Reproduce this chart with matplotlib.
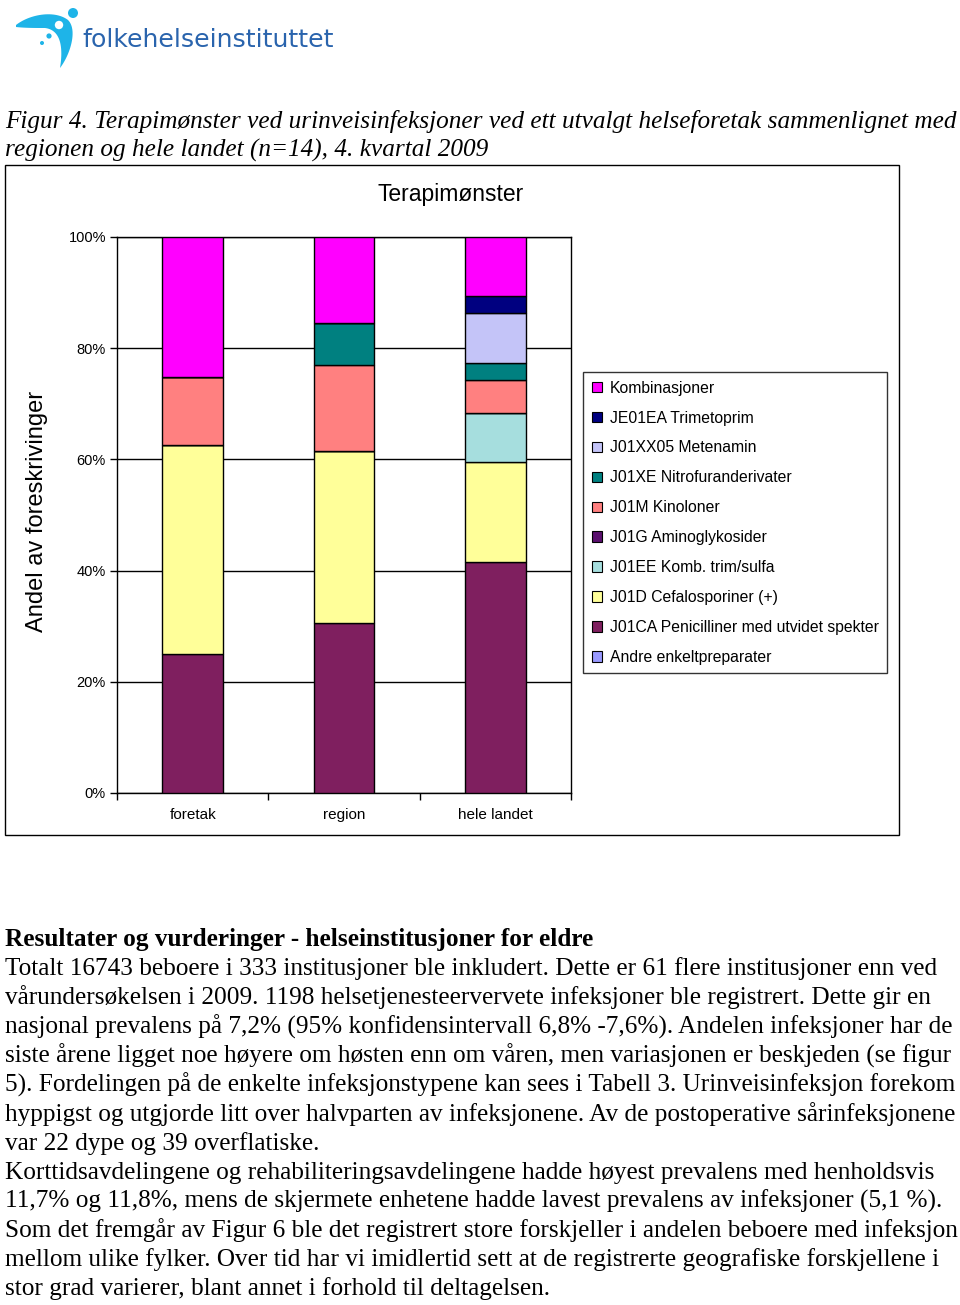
import matplotlib.pyplot as plt
from matplotlib.patches import Rectangle, Circle, Polygon
import numpy as np

# kategorier og andeler (%) per legemiddelgruppe, lest av figuren
categories = ['foretak', 'region', 'hele landet']

andre = [0, 0, 0]
j01ca = [25.0, 30.6, 41.6]
j01d = [37.6, 30.9, 18.0]
j01ee = [0, 0, 8.8]
j01g = [0, 0, 0]
j01m = [12.3, 15.4, 5.9]
j01xe = [0, 7.7, 3.1]
j01xx05 = [0, 0, 9.0]
je01ea = [0, 0, 3.0]
komb = [25.1, 15.4, 10.6]

series_names = ['Andre enkeltpreparater', 'J01CA Penicilliner med utvidet spekter',
                'J01D Cefalosporiner (+)', 'J01EE Komb. trim/sulfa', 'J01G Aminoglykosider',
                'J01M Kinoloner', 'J01XE Nitrofuranderivater', 'J01XX05 Metenamin',
                'JE01EA Trimetoprim', 'Kombinasjoner']
series_values = [andre, j01ca, j01d, j01ee, j01g, j01m, j01xe, j01xx05, je01ea, komb]
series_colors = ['#9999ff', '#7f1f5f', '#ffff99', '#a6dede', '#5a0f6e',
                 '#ff8080', '#008080', '#c4c4f8', '#000080', '#ff00ff']

yticks = [0, 20, 40, 60, 80, 100]
ytick_labels = ['0%', '20%', '40%', '60%', '80%', '100%']

W, H = 960, 1305
fig = plt.figure(figsize=(W / 100, H / 100), dpi=100)

# bakgrunn i pikselkoordinater (logo, ramme, tekst)
bg = fig.add_axes([0, 0, 1, 1])
bg.set_xlim(0, W)
bg.set_ylim(H, 0)
bg.axis('off')


def bezier(p, n=30):
    p = np.array(p, dtype=float)
    t = np.linspace(0, 1, n)[:, None]
    return ((1 - t) ** 3 * p[0] + 3 * (1 - t) ** 2 * t * p[1]
            + 3 * (1 - t) * t ** 2 * p[2] + t ** 3 * p[3])


# logo
cyan = '#1eb4e8'
swoosh = np.vstack([
    bezier([(16, 25), (30, 14), (55, 10), (68, 20)]),
    bezier([(68, 20), (78, 30), (70, 55), (60, 68)]),
    bezier([(60, 68), (63, 50), (62, 30), (45, 28)]),
    bezier([(45, 28), (35, 28), (25, 28), (16, 27)]),
])
bg.add_patch(Polygon(swoosh, closed=True, color=cyan, lw=0))
bg.add_patch(Circle((59, 25), 4.2, color='white', lw=0))
bg.add_patch(Circle((73, 13), 5, color=cyan, lw=0))
bg.add_patch(Circle((49, 36), 2.6, color=cyan, lw=0))
bg.add_patch(Circle((42, 43), 2.0, color=cyan, lw=0))
bg.text(82, 47, 'folkehelseinstituttet', fontsize=18.2, color='#2a64ad',
        family='DejaVu Sans', va='baseline', ha='left')

# figurtekst
serif = 'Liberation Serif'
fs = 18.2
bg.text(5, 128, 'Figur 4. Terapimønster ved urinveisinfeksjoner ved ett utvalgt helseforetak sammenlignet med',
        fontsize=fs, family=serif, style='italic', va='baseline')
bg.text(5, 157, 'regionen og hele landet (n=14), 4. kvartal 2009',
        fontsize=fs, family=serif, style='italic', va='baseline')

# ramme rundt diagrammet
bg.add_patch(Rectangle((5, 165), 894, 670, fill=False, ec='black', lw=1))

# brødtekst
bg.text(5, 946, 'Resultater og vurderinger - helseinstitusjoner for eldre',
        fontsize=fs, family=serif, weight='bold', va='baseline')
body = [
    'Totalt 16743 beboere i 333 institusjoner ble inkludert. Dette er 61 flere institusjoner enn ved',
    'vårundersøkelsen i 2009. 1198 helsetjenesteervervete infeksjoner ble registrert. Dette gir en',
    'nasjonal prevalens på 7,2% (95% konfidensintervall 6,8% -7,6%). Andelen infeksjoner har de',
    'siste årene ligget noe høyere om høsten enn om våren, men variasjonen er beskjeden (se figur',
    '5). Fordelingen på de enkelte infeksjonstypene kan sees i Tabell 3. Urinveisinfeksjon forekom',
    'hyppigst og utgjorde litt over halvparten av infeksjonene. Av de postoperative sårinfeksjonene',
    'var 22 dype og 39 overflatiske.',
    'Korttidsavdelingene og rehabiliteringsavdelingene hadde høyest prevalens med henholdsvis',
    '11,7% og 11,8%, mens de skjermete enhetene hadde lavest prevalens av infeksjoner (5,1 %).',
    'Som det fremgår av Figur 6 ble det registrert store forskjeller i andelen beboere med infeksjon',
    'mellom ulike fylker. Over tid har vi imidlertid sett at de registrerte geografiske forskjellene i',
    'stor grad varierer, blant annet i forhold til deltagelsen.',
]
for i, line in enumerate(body):
    bg.text(5, 975 + i * 29.1, line, fontsize=fs, family=serif, va='baseline')

# selve diagrammet
sans = 'Liberation Sans'
ax = fig.add_axes([117 / W, 1 - 793 / H, 454 / W, 556 / H])
x = np.arange(len(categories))
bottom = np.zeros(len(categories))
handles = []
for name, vals, col in zip(series_names, series_values, series_colors):
    vals = np.array(vals, dtype=float)
    ax.bar(x, vals, 0.4, bottom=bottom, color=col, edgecolor='black', linewidth=1, zorder=3)
    handles.append(Rectangle((0, 0), 1, 1, fc=col, ec='black', lw=0.8))
    bottom += vals

ax.set_xlim(-0.5, 2.5)
ax.set_ylim(0, 100)
ax.set_yticks(yticks)
ax.set_yticklabels(ytick_labels, family=sans, fontsize=10.5)
ax.set_xticks(x)
ax.set_xticklabels(categories, family=sans, fontsize=11)
ax.set_xticks([-0.5, 0.5, 1.5, 2.5], minor=True)
ax.tick_params(axis='x', which='major', length=0, pad=11)
ax.tick_params(axis='x', which='minor', length=5, width=1, direction='out')
ax.tick_params(axis='y', length=5, width=1, direction='out', pad=3)
ax.grid(axis='y', color='black', linewidth=1, zorder=0)
for s in ax.spines.values():
    s.set_color('black')
    s.set_linewidth(1)

fig.text(451 / W, 1 - 195 / H, 'Terapimønster', family=sans, fontsize=16.5,
         ha='center', va='center')
fig.text(37 / W, 1 - 511 / H, 'Andel av foreskrivinger', family=sans, fontsize=17,
         rotation=90, ha='center', va='center')

leg = fig.legend(handles[::-1], series_names[::-1], loc='upper left',
                 bbox_to_anchor=(583 / W, 1 - 372 / H), frameon=True, fancybox=False,
                 prop={'family': sans, 'size': 11.3}, handlelength=0.65, handleheight=0.65,
                 handletextpad=0.5, labelspacing=0.95, borderpad=0.55, borderaxespad=0)
leg.get_frame().set_edgecolor('black')
leg.get_frame().set_linewidth(1)

fig.savefig('out.png', dpi=100)
